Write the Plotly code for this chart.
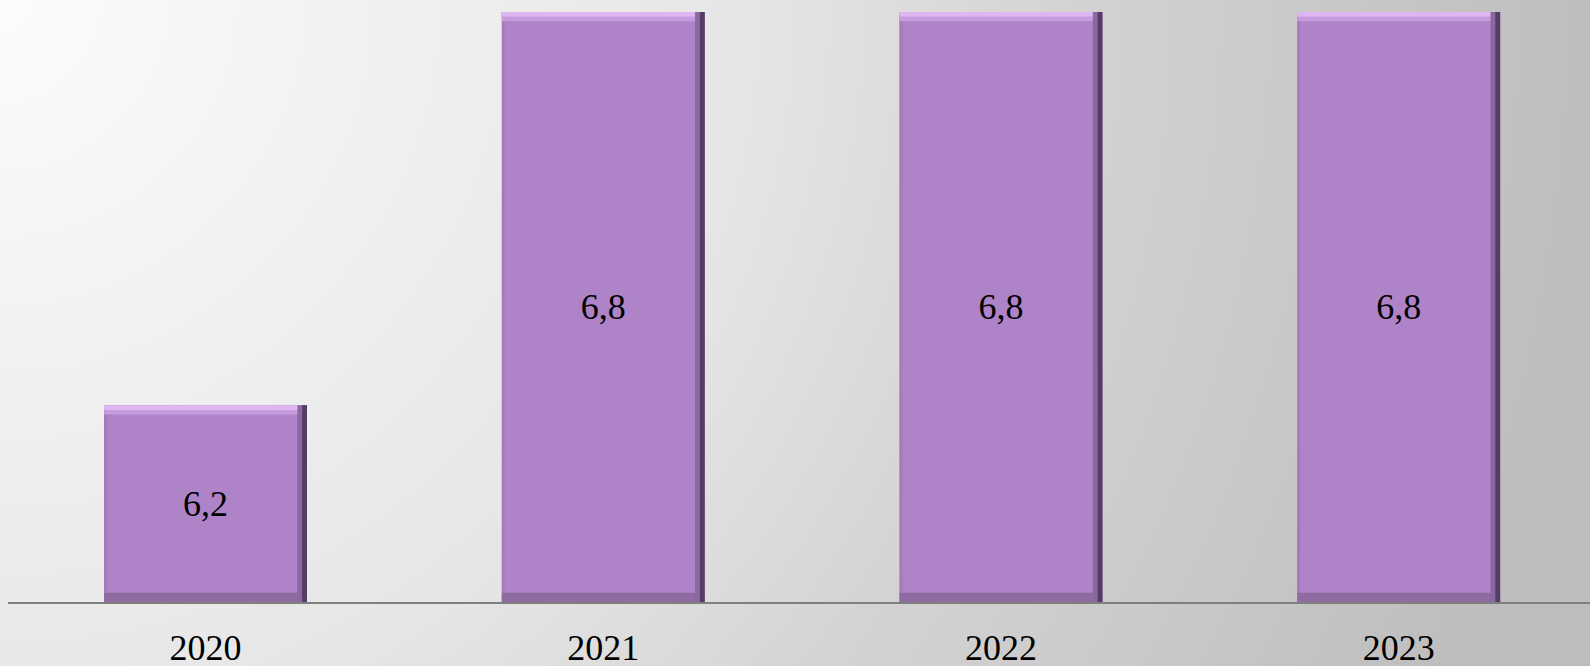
import base64
import plotly.graph_objects as go

# ---- data ----
years = ["2020", "2021", "2022", "2023"]
values = [6.2, 6.8, 6.8, 6.8]
labels = [f"{v:.1f}".replace(".", ",") for v in values]

# ---- styling constants ----
Y_MIN = 5.9
Y_MAX = 6.8183
BAR_W = 0.51
BEVEL = 0.007          # half bevel thickness in data units (~4.5px)
EDGE_W = 0.012         # half right edge width in category units
MAIN = "#AF83C8"
TOP_OUT = "#DDB6F2"
TOP_IN = "#C79CDD"
RIGHT_OUT = "#553C64"
RIGHT_IN = "#8A68A0"
BOTTOM_DK = "#8E6CA2"
LEFT_LT = "#A47CBB"

W, H = 1590, 666
ML, MR, MT, MB = 8, 0, 0, 64
pw, ph = W - ML - MR, H - MT - MB

svg = f'''<svg xmlns="http://www.w3.org/2000/svg" width="{W}" height="{H}" viewBox="0 0 {W} {H}" preserveAspectRatio="none">
<defs><radialGradient id="g" gradientUnits="userSpaceOnUse" cx="0" cy="0" r="1650">
<stop offset="0" stop-color="#fcfcfc"/>
<stop offset="0.45" stop-color="#e6e6e6"/>
<stop offset="0.65" stop-color="#d3d3d3"/>
<stop offset="0.95" stop-color="#bfbfbf"/>
<stop offset="1" stop-color="#bdbdbd"/>
</radialGradient></defs>
<rect x="0" y="0" width="{W}" height="{H}" fill="url(#g)"/></svg>'''
bg_uri = "data:image/svg+xml;base64," + base64.b64encode(svg.encode()).decode()

fig = go.Figure()
heights = [v - Y_MIN for v in values]


def strip(y, base, width, offset, color):
    fig.add_trace(go.Bar(
        x=years, y=y, base=base, width=width, offset=offset,
        marker=dict(color=color, line=dict(width=0)),
        hoverinfo="skip", showlegend=False,
    ))


# main bar body
fig.add_trace(go.Bar(
    x=years, y=heights, base=Y_MIN,
    width=BAR_W, offset=-BAR_W / 2,
    marker=dict(color=MAIN, line=dict(width=0)),
    text=labels, textposition="inside", insidetextanchor="middle",
    textangle=0, constraintext="none",
    textfont=dict(family="Liberation Serif", size=36, color="black"),
    hoverinfo="x+text", showlegend=False,
))
# left light edge
strip(heights, Y_MIN, EDGE_W * 0.6, -BAR_W / 2, LEFT_LT)
# bottom dark edge
strip([2 * BEVEL] * len(values), Y_MIN, BAR_W, -BAR_W / 2, BOTTOM_DK)
# top highlight (inner then outer)
strip([2 * BEVEL] * len(values), [v - 2 * BEVEL for v in values], BAR_W, -BAR_W / 2, TOP_IN)
strip([BEVEL] * len(values), [v - BEVEL for v in values], BAR_W, -BAR_W / 2, TOP_OUT)
# right dark edge (inner then outer)
strip(heights, Y_MIN, 2 * EDGE_W, BAR_W / 2 - 2 * EDGE_W, RIGHT_IN)
strip(heights, Y_MIN, EDGE_W, BAR_W / 2 - EDGE_W, RIGHT_OUT)

fig.update_layout(
    width=W, height=H, autosize=False,
    margin=dict(l=ML, r=MR, t=MT, b=MB, pad=0),
    barmode="overlay",
    paper_bgcolor="rgba(0,0,0,0)",
    plot_bgcolor="rgba(0,0,0,0)",
    images=[dict(
        source=bg_uri, xref="paper", yref="paper",
        x=-ML / pw, y=1 + MT / ph, sizex=W / pw, sizey=H / ph,
        xanchor="left", yanchor="top", sizing="stretch", layer="below",
    )],
    xaxis=dict(
        type="category", range=[-0.4966, 3.481], automargin=False,
        showline=True, linecolor="#7f7f7f", linewidth=2,
        showgrid=False, zeroline=False, ticks="",
        tickfont=dict(family="Liberation Serif", size=36, color="black"),
        ticklabelstandoff=13,
    ),
    yaxis=dict(
        range=[Y_MIN, Y_MAX], visible=False, showgrid=False, zeroline=False,
        automargin=False,
    ),
)

fig.write_html(
    "out.html",
    config={"responsive": False, "displayModeBar": False},
    post_script="document.body.style.margin='0';document.body.style.overflow='hidden';",
)
